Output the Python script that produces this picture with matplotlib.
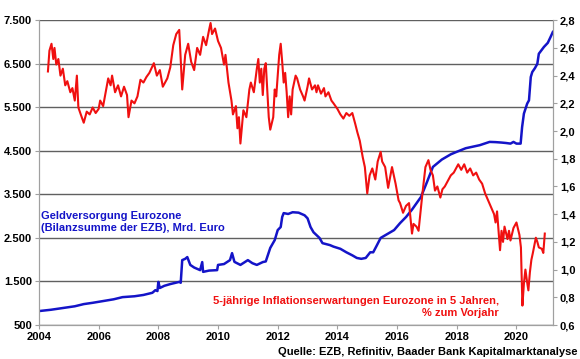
import matplotlib
matplotlib.use("Agg")
import matplotlib.pyplot as plt
from matplotlib.ticker import FuncFormatter

plt.rcParams['font.family'] = ['Liberation Sans', 'DejaVu Sans']
plt.rcParams['font.weight'] = 'bold'

# ECB balance sheet total, bn EUR (left axis)
ezb_years = [2004.0, 2004.4, 2004.8, 2005.2, 2005.5, 2005.8, 2006.15, 2006.5, 2006.8,
             2007.2, 2007.5, 2007.8, 2007.9, 2007.97, 2008.0, 2008.05, 2008.2, 2008.4,
             2008.7, 2008.75, 2008.8, 2008.9, 2008.97, 2009.07, 2009.2, 2009.4, 2009.47,
             2009.5, 2009.7, 2009.97, 2010.0, 2010.2, 2010.4, 2010.47, 2010.55, 2010.75,
             2011.0, 2011.15, 2011.3, 2011.5, 2011.6, 2011.75, 2011.9, 2012.0, 2012.1,
             2012.15, 2012.2, 2012.35, 2012.5, 2012.7, 2012.9, 2013.0, 2013.1, 2013.2,
             2013.4, 2013.5, 2013.75, 2013.87, 2014.1, 2014.3, 2014.5, 2014.65, 2014.8,
             2014.95, 2015.1, 2015.2, 2015.3, 2015.45, 2015.7, 2015.9, 2016.1, 2016.3,
             2016.5, 2016.8, 2017.0, 2017.2, 2017.5, 2017.8, 2017.99, 2018.3, 2018.77,
             2019.1, 2019.3, 2019.5, 2019.65, 2019.8, 2019.9, 2020.0, 2020.14, 2020.19,
             2020.25, 2020.36, 2020.42, 2020.48, 2020.53, 2020.62, 2020.7, 2020.75,
             2020.92, 2021.05, 2021.14, 2021.22]
ezb_values = [820, 850, 890, 930, 980, 1010, 1050, 1090, 1140,
              1160, 1190, 1240, 1300, 1280, 1490, 1350, 1400, 1440,
              1490, 1470, 1990, 2020, 2060, 1880, 1820, 1760, 1945,
              1720, 1750, 1760, 1880, 1900, 1990, 2150, 1950, 1880,
              1990, 1920, 1880, 1945, 1960, 2270, 2450, 2680, 2750,
              2980, 3070, 3050, 3090, 3080, 3020, 2950, 2750, 2630,
              2500, 2380, 2335, 2300, 2250, 2170, 2100, 2040, 2020,
              2040, 2170, 2170, 2300, 2500, 2600, 2680, 2840, 2980,
              3150, 3440, 3780, 4130, 4300, 4420, 4475, 4560, 4630,
              4705, 4700, 4690, 4680, 4666, 4705, 4666, 4666, 5048,
              5355, 5585, 5660, 6195, 6310, 6400, 6500, 6730,
              6885, 6980, 7110, 7230]

# 5y5y inflation expectations euro area, % (right axis)
infl_years = [2004.30, 2004.35, 2004.42, 2004.48, 2004.52, 2004.58, 2004.65, 2004.72,
              2004.80, 2004.88, 2004.95, 2005.05, 2005.12, 2005.20, 2005.27, 2005.32,
              2005.40, 2005.50, 2005.60, 2005.70, 2005.80, 2005.90, 2006.00, 2006.05,
              2006.15, 2006.25, 2006.32, 2006.40, 2006.45, 2006.55, 2006.65, 2006.75,
              2006.85, 2006.95, 2007.00, 2007.10, 2007.20, 2007.30, 2007.40, 2007.50,
              2007.60, 2007.70, 2007.85, 2007.95, 2008.05, 2008.15, 2008.30, 2008.40,
              2008.50, 2008.60, 2008.70, 2008.80, 2008.90, 2009.00, 2009.10, 2009.20,
              2009.30, 2009.40, 2009.50, 2009.60, 2009.70, 2009.75, 2009.80, 2009.90,
              2010.00, 2010.10, 2010.20, 2010.25, 2010.35, 2010.45, 2010.50, 2010.60,
              2010.65, 2010.70, 2010.75, 2010.85, 2010.95, 2011.05, 2011.10, 2011.20,
              2011.30, 2011.35, 2011.40, 2011.45, 2011.50, 2011.55, 2011.60, 2011.65,
              2011.70, 2011.75, 2011.85, 2011.90, 2011.95, 2012.00, 2012.05, 2012.10,
              2012.15, 2012.20, 2012.25, 2012.30, 2012.35, 2012.40, 2012.45, 2012.50,
              2012.60, 2012.65, 2012.75, 2012.85, 2012.90, 2013.00, 2013.05, 2013.15,
              2013.25, 2013.30, 2013.35, 2013.45, 2013.55, 2013.60, 2013.70, 2013.80,
              2013.87, 2014.00, 2014.10, 2014.20, 2014.30, 2014.40, 2014.50, 2014.60,
              2014.67, 2014.75, 2014.85, 2014.92, 2015.00, 2015.08, 2015.17, 2015.27,
              2015.35, 2015.45, 2015.50, 2015.60, 2015.70, 2015.83, 2015.95, 2016.05,
              2016.10, 2016.20, 2016.30, 2016.40, 2016.50, 2016.55, 2016.65, 2016.72,
              2016.85, 2016.95, 2017.05, 2017.12, 2017.20, 2017.27, 2017.35, 2017.45,
              2017.52, 2017.60, 2017.70, 2017.80, 2017.90, 2018.05, 2018.15, 2018.25,
              2018.35, 2018.45, 2018.55, 2018.65, 2018.75, 2018.85, 2018.95, 2019.05,
              2019.15, 2019.25, 2019.30, 2019.35, 2019.45, 2019.50, 2019.55, 2019.60,
              2019.70, 2019.75, 2019.80, 2019.90, 2020.00, 2020.10, 2020.15, 2020.20,
              2020.25, 2020.30, 2020.35, 2020.40, 2020.45, 2020.50, 2020.55, 2020.65,
              2020.70, 2020.75, 2020.85, 2020.90, 2020.95]
infl_values = [2.43, 2.58, 2.63, 2.52, 2.60, 2.48, 2.52, 2.40,
               2.45, 2.33, 2.36, 2.28, 2.31, 2.22, 2.40, 2.17,
               2.12, 2.06, 2.14, 2.12, 2.17, 2.13, 2.16, 2.22,
               2.18, 2.30, 2.38, 2.33, 2.40, 2.28, 2.33, 2.25,
               2.32, 2.26, 2.10, 2.22, 2.20, 2.25, 2.37, 2.35,
               2.39, 2.42, 2.49, 2.40, 2.44, 2.32, 2.38, 2.46,
               2.62, 2.70, 2.73, 2.30, 2.55, 2.63, 2.50, 2.44,
               2.60, 2.55, 2.68, 2.62, 2.73, 2.78, 2.70, 2.74,
               2.65, 2.60, 2.48, 2.55, 2.35, 2.22, 2.12, 2.18,
               2.02, 2.10, 1.91, 2.15, 2.10, 2.30, 2.35, 2.28,
               2.45, 2.52, 2.35, 2.45, 2.26, 2.45, 2.49, 2.30,
               2.10, 2.01, 2.10, 2.30, 2.25, 2.40, 2.55, 2.63,
               2.50, 2.35, 2.42, 2.28, 2.10, 2.25, 2.12, 2.30,
               2.40, 2.38, 2.30, 2.25, 2.22, 2.32, 2.38, 2.30,
               2.33, 2.28, 2.33, 2.27, 2.31, 2.25, 2.28, 2.22,
               2.20, 2.16, 2.12, 2.09, 2.13, 2.11, 2.13, 2.05,
               1.99, 1.93, 1.81, 1.74, 1.55, 1.68, 1.73, 1.65,
               1.78, 1.85, 1.78, 1.74, 1.59, 1.74, 1.62, 1.50,
               1.48, 1.41, 1.46, 1.48, 1.26, 1.33, 1.31, 1.28,
               1.55, 1.74, 1.79, 1.72, 1.68, 1.57, 1.60, 1.52,
               1.58, 1.60, 1.64, 1.68, 1.70, 1.76, 1.72, 1.76,
               1.70, 1.73, 1.68, 1.70, 1.65, 1.62, 1.55, 1.50,
               1.45, 1.40, 1.34, 1.42, 1.14, 1.28, 1.20, 1.31,
               1.22, 1.28, 1.21, 1.30, 1.34, 1.25, 1.16, 0.74,
               0.90, 1.00, 0.92, 0.85, 0.98, 1.07, 1.12, 1.23,
               1.20, 1.16, 1.15, 1.12, 1.26]

left_ticks = [500, 1500, 2500, 3500, 4500, 5500, 6500, 7500]
right_ticks = [0.6, 0.8, 1.0, 1.2, 1.4, 1.6, 1.8, 2.0, 2.2, 2.4, 2.6, 2.8]
x_ticks = [2004, 2006, 2008, 2010, 2012, 2014, 2016, 2018, 2020]

blue = '#1414c8'
red = '#f01010'

fig = plt.figure(figsize=(5.8, 3.59), dpi=100)
ax = fig.add_axes([0.0672, 0.0947, 0.886, 0.849])
ax2 = ax.twinx()

ax.plot(ezb_years, ezb_values, color=blue, linewidth=1.8)
ax2.plot(infl_years, infl_values, color=red, linewidth=1.5)

ax.set_xlim(2004, 2021.22)
ax.set_ylim(500, 7500)
ax2.set_ylim(0.6, 2.8)

ax.set_xticks(x_ticks)
ax.set_yticks(left_ticks)
ax2.set_yticks(right_ticks)
ax.yaxis.set_major_formatter(FuncFormatter(lambda v, p: f"{int(v):,}".replace(',', '.')))
ax2.yaxis.set_major_formatter(FuncFormatter(lambda v, p: f"{v:.1f}".replace('.', ',')))

ax.grid(axis='y', color='#606060', linewidth=1.0)
ax.set_axisbelow(True)

for a in (ax, ax2):
    for s in a.spines.values():
        s.set_color('#a0a0a0')
    a.spines['top'].set_visible(False)
    a.tick_params(axis='both', colors='#a0a0a0', labelcolor='black', labelsize=8,
                  length=3, width=0.8, pad=2)

for lab in ax.get_xticklabels() + ax.get_yticklabels() + ax2.get_yticklabels():
    lab.set_fontweight('bold')

ax.text(0.004, 0.338, "Geldversorgung Eurozone\n(Bilanzsumme der EZB), Mrd. Euro",
        transform=ax.transAxes, color=blue, fontsize=8, fontweight='bold',
        ha='left', va='center', linespacing=1.35)
ax.text(0.895, 0.059, "5-jährige Inflationserwartungen Eurozone in 5 Jahren,\n% zum Vorjahr",
        transform=ax.transAxes, color=red, fontsize=8, fontweight='bold',
        ha='right', va='center', linespacing=1.35, multialignment='right')
fig.text(0.995, 0.02, "Quelle: EZB, Refinitiv, Baader Bank Kapitalmarktanalyse",
         color='black', fontsize=8, fontweight='bold', ha='right', va='center')

fig.savefig('out.png', dpi=100)
